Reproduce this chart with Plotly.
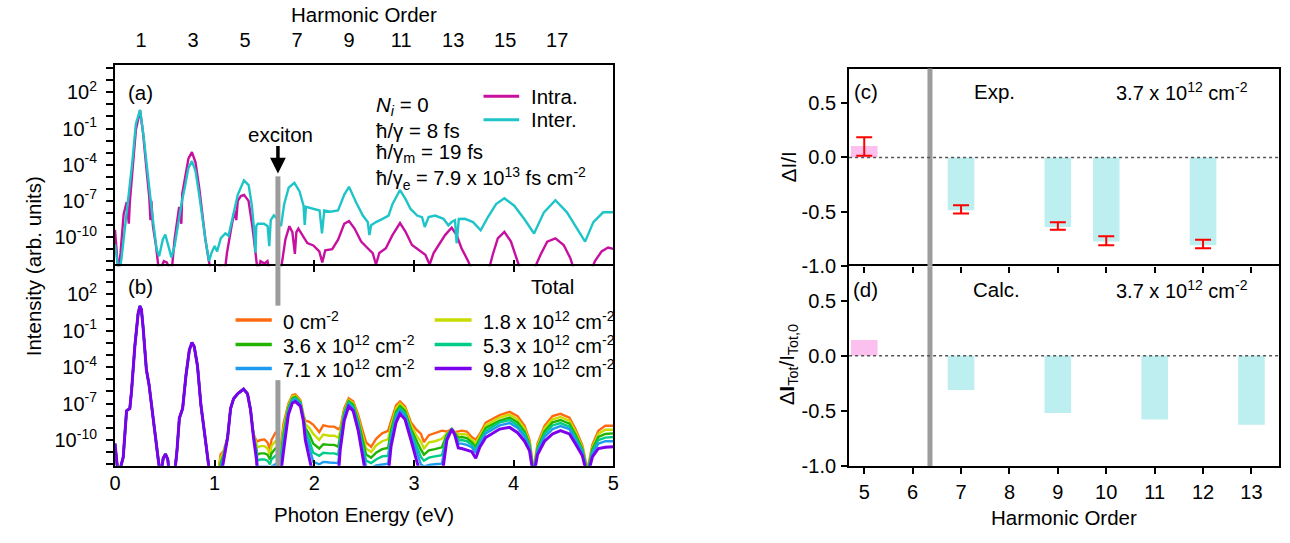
import numpy as np
import plotly.graph_objects as go

W, H = 1290, 543
FONT = "Liberation Sans, Arial, Helvetica, sans-serif"

# ---------------- panel (a): Intra / Inter spectra (log10 of intensity) ----------------
intra_e = [0.0, 0.034, 0.056, 0.087, 0.118, 0.139, 0.149, 0.18, 0.21, 0.252,
           0.282, 0.313, 0.344, 0.356, 0.365, 0.381, 0.412, 0.443, 0.49, 0.52,
           0.567, 0.598, 0.644, 0.666, 0.675, 0.69, 0.737, 0.772, 0.808, 0.845,
           0.876, 0.907, 0.938, 0.965, 1.0, 1.066, 1.1, 1.124, 1.17, 1.2,
           1.217, 1.232, 1.263, 1.295, 1.34, 1.378, 1.41, 1.433, 1.46, 1.5,
           1.53, 1.557, 1.66, 1.71, 1.75, 1.78, 1.805, 1.82, 1.84, 1.88,
           1.93, 1.99, 2.05, 2.08, 2.11, 2.18, 2.24, 2.3, 2.348, 2.404,
           2.47, 2.536, 2.586, 2.619, 2.652, 2.718, 2.784, 2.86, 2.916, 2.98,
           3.048, 3.114, 3.157, 3.197, 3.312, 3.378, 3.428, 3.477, 3.544, 3.593,
           3.742, 3.79, 3.841, 3.907, 3.973, 4.039, 4.079, 4.188, 4.27, 4.337,
           4.419, 4.502, 4.568, 4.618, 4.766, 4.816, 4.882, 4.948, 5.0]
intra_log = [-9.4, -13, -11.3, -8.1, -7.1, -8.9, -7.1, -4.1, -1.1, 0.5,
             -1.4, -4.1, -6.7, -8.6, -7.0, -9.1, -10.75, -13, -12.0, -12.1,
             -13, -10.2, -7.5, -8.9, -6.4, -5.7, -3.5, -2.95, -3.8, -5.9,
             -8.1, -10.2, -11.8, -13, -13, -12.3, -13, -11.3, -9.1, -7.8,
             -8.6, -7.0, -6.6, -6.5, -7.0, -9.1, -11.3, -13, -12.0, -12.2,
             -12.0, -13, -13, -10.2, -9.1, -9.6, -11.4, -9.6, -9.3, -9.8,
             -10.5, -10.7, -11.2, -12.1, -11.1, -11.0, -10.2, -8.9, -8.68, -9.3,
             -10.38, -10.93, -11.33, -12.28, -11.33, -10.93, -9.84, -8.84, -9.57, -10.66,
             -11.06, -11.47, -12.28, -11.33, -9.84, -9.22, -9.84, -10.93, -12.0, -13,
             -13, -11.47, -10.11, -9.57, -10.38, -12.0, -13, -13, -11.47, -10.38,
             -10.11, -10.66, -11.74, -13, -13, -12.0, -11.2, -10.87, -10.98]

inter_e = [0.0, 0.04, 0.065, 0.102, 0.133, 0.17, 0.21, 0.252, 0.288, 0.313,
           0.344, 0.381, 0.418, 0.443, 0.48, 0.505, 0.536, 0.567, 0.598, 0.636,
           0.67, 0.703, 0.736, 0.772, 0.808, 0.845, 0.876, 0.907, 0.944, 0.969,
           1.0, 1.025, 1.062, 1.108, 1.139, 1.186, 1.232, 1.294, 1.341, 1.372,
           1.396, 1.41, 1.418, 1.433, 1.495, 1.532, 1.548, 1.563, 1.594, 1.63,
           1.666, 1.697, 1.743, 1.8, 1.851, 1.892, 1.904, 1.916, 1.991, 2.053,
           2.077, 2.1, 2.16, 2.238, 2.3, 2.348, 2.42, 2.487, 2.536, 2.553,
           2.57, 2.619, 2.685, 2.745, 2.784, 2.86, 2.916, 2.966, 3.032, 3.081,
           3.108, 3.147, 3.213, 3.296, 3.345, 3.378, 3.412, 3.428, 3.45, 3.51,
           3.593, 3.669, 3.742, 3.824, 3.907, 4.006, 4.105, 4.205, 4.304, 4.419,
           4.535, 4.634, 4.717, 4.8, 4.898, 5.0]
inter_log = [-10.6, -13, -11.8, -9.1, -6.7, -4.1, -0.6, 0.55, -1.7, -3.8,
             -5.9, -8.6, -11.0, -11.6, -10.2, -9.8, -10.75, -11.7, -10.75, -8.8,
             -7.1, -5.8, -4.3, -3.7, -4.5, -6.5, -8.6, -10.2, -12.0, -11.3,
             -10.75, -11.2, -10.1, -9.7, -9.9, -8.3, -6.5, -5.3, -5.7, -7.3,
             -9.4, -11.3, -9.1, -8.9, -8.9, -9.1, -10.75, -8.6, -8.2, -8.5,
             -9.1, -7.3, -5.9, -5.5, -6.2, -7.4, -9.0, -7.5, -7.7, -7.8,
             -9.7, -7.8, -7.9, -7.8, -6.5, -5.83, -7.13, -8.22, -8.76, -9.84,
             -9.03, -8.76, -8.49, -8.22, -7.27, -6.1, -6.86, -7.67, -8.22, -8.35,
             -9.17, -8.35, -8.22, -8.49, -9.03, -8.76, -8.6, -10.52, -8.5, -8.49,
             -8.76, -9.44, -8.35, -7.27, -6.78, -7.4, -8.49, -9.71, -7.95, -6.94,
             -7.95, -9.3, -10.38, -8.76, -7.95, -7.95]

# ---------------- panel (b): total spectra for several carrier densities ----------------
# below ~1 eV all densities coincide
total_low_e = [0.0, 0.033, 0.083, 0.116, 0.149, 0.166, 0.199, 0.232, 0.25, 0.265,
               0.282, 0.315, 0.341, 0.364, 0.398, 0.431, 0.457, 0.484, 0.507, 0.53,
               0.547, 0.596, 0.623, 0.646, 0.679, 0.712, 0.746, 0.772, 0.795, 0.828,
               0.862, 0.895, 0.928, 0.954, 1.0]
total_low_log = [-10.3, -13, -11.4, -7.6, -7.4, -6.0, -2.3, 0.4, 1.04, 0.77,
                 -0.7, -4.2, -5.4, -7.1, -9.2, -11.4, -13, -11.5, -11.15, -11.6,
                 -13, -13, -10.8, -8.2, -7.4, -4.7, -2.6, -1.97, -2.3, -3.9,
                 -7.1, -9.2, -11.1, -13, -13]

total_high_e = [1.03, 1.06, 1.09, 1.13, 1.16, 1.19, 1.23, 1.26, 1.29, 1.33,
                1.36, 1.39, 1.42, 1.43, 1.46, 1.50, 1.53, 1.555, 1.57, 1.61,
                1.625, 1.66, 1.69, 1.74, 1.78, 1.81, 1.86, 1.89, 1.91, 1.95,
                1.99, 2.05, 2.09, 2.15, 2.20, 2.24, 2.26, 2.30, 2.345, 2.39,
                2.44, 2.47, 2.52, 2.57, 2.62, 2.68, 2.74, 2.77, 2.82, 2.86,
                2.91, 2.97, 3.02, 3.07, 3.10, 3.15, 3.21, 3.28, 3.33, 3.38,
                3.41, 3.445, 3.48, 3.53, 3.58, 3.62, 3.66, 3.72, 3.86, 3.96,
                4.04, 4.11, 4.16, 4.20, 4.24, 4.31, 4.39, 4.47, 4.56, 4.62,
                4.69, 4.74, 4.79, 4.85, 4.92, 5.0]
total_n00 = [-13, -11.2, -10.9, -9.8, -7.4, -6.6, -6.2, -6.0, -5.8, -6.2,
             -7.5, -9.5, -10.1, -10.1, -10.0, -9.95, -10.2, -10.8, -10.0, -9.4,
             -9.4, -10.8, -8.7, -7.0, -6.3, -6.24, -6.7, -7.9, -8.4, -8.5,
             -8.75, -9.35, -8.8, -8.9, -8.9, -9.1, -9.0, -7.4, -6.56, -6.8,
             -7.9, -8.8, -10.2, -10.56, -9.9, -9.45, -9.25, -8.45, -7.15, -6.83,
             -7.23, -8.56, -9.1, -9.5, -10.16, -9.6, -9.44, -9.23, -9.3, -9.1,
             -9.36, -9.3, -9.23, -9.3, -9.76, -9.97, -9.5, -8.56, -7.95, -7.68,
             -8.03, -8.83, -10.03, -12.5, -10.3, -8.83, -8.03, -7.84, -8.16, -9.09,
             -10.43, -12.5, -10.4, -9.23, -8.83, -8.83]
total_n18 = [-13, -11.5, -11.0, -9.8, -7.4, -6.6, -6.2, -6.0, -5.8, -6.2,
             -7.5, -9.55, -10.4, -10.6, -10.5, -10.5, -10.7, -11.2, -10.5, -10.1,
             -10.1, -11.2, -9.1, -7.15, -6.4, -6.35, -6.8, -8.0, -8.7, -9.0,
             -9.5, -10.0, -9.55, -9.65, -9.65, -9.8, -9.3, -7.6, -6.7, -6.95,
             -8.15, -9.15, -10.7, -11.0, -10.45, -10.1, -9.95, -8.8, -7.4, -7.0,
             -7.4, -8.8, -9.55, -10.15, -10.7, -10.2, -10.1, -9.9, -9.45, -9.1,
             -9.4, -9.55, -9.5, -9.55, -10.0, -10.25, -9.7, -8.8, -8.15, -7.9,
             -8.3, -9.05, -10.2, -12.6, -10.45, -9.05, -8.3, -8.1, -8.4, -9.3,
             -10.6, -12.6, -10.6, -9.5, -9.15, -9.15]
total_n36 = [-13, -11.9, -11.2, -9.8, -7.4, -6.6, -6.2, -6.0, -5.8, -6.2,
             -7.5, -9.6, -10.7, -11.2, -11.1, -11.1, -11.2, -11.6, -11.1, -10.7,
             -10.7, -11.6, -9.55, -7.3, -6.55, -6.45, -6.9, -8.1, -9.0, -9.55,
             -10.3, -10.7, -10.35, -10.4, -10.4, -10.55, -9.65, -7.75, -6.8, -7.1,
             -8.4, -9.55, -11.2, -11.45, -11.05, -10.75, -10.65, -9.2, -7.65, -7.2,
             -7.6, -9.1, -10.0, -10.8, -11.2, -10.85, -10.75, -10.6, -9.55, -9.1,
             -9.45, -9.8, -9.75, -9.85, -10.2, -10.55, -9.9, -9.0, -8.4, -8.15,
             -8.55, -9.3, -10.35, -12.7, -10.65, -9.3, -8.55, -8.35, -8.65, -9.55,
             -10.75, -12.7, -10.75, -9.75, -9.5, -9.45]
total_n53 = [-13, -12.2, -11.3, -9.8, -7.4, -6.6, -6.2, -6.0, -5.8, -6.2,
             -7.5, -9.65, -10.9, -11.7, -11.6, -11.6, -11.7, -12.0, -11.6, -11.3,
             -11.3, -12.0, -9.9, -7.5, -6.65, -6.55, -6.95, -8.15, -9.25, -10.05,
             -11.05, -11.3, -11.05, -11.1, -11.1, -11.2, -9.95, -7.95, -6.9, -7.25,
             -8.6, -9.9, -11.7, -11.9, -11.6, -11.35, -11.3, -9.55, -7.9, -7.4,
             -7.8, -9.35, -10.4, -11.4, -11.7, -11.45, -11.35, -11.25, -9.7, -9.1,
             -9.5, -10.05, -10.0, -10.1, -10.4, -10.8, -10.1, -9.25, -8.55, -8.35,
             -8.8, -9.5, -10.5, -12.8, -10.8, -9.5, -8.8, -8.6, -8.9, -9.75,
             -10.9, -12.8, -10.95, -10.0, -9.8, -9.75]
total_n71 = [-13, -12.5, -11.5, -9.8, -7.4, -6.6, -6.2, -6.0, -5.8, -6.2,
             -7.5, -9.7, -11.2, -12.2, -12.2, -12.2, -12.2, -12.4, -12.2, -12.0,
             -12.0, -12.4, -10.35, -7.65, -6.75, -6.65, -7.05, -8.25, -9.55, -10.6,
             -11.8, -12.0, -11.8, -11.85, -11.85, -11.9, -10.3, -8.1, -7.05, -7.4,
             -8.85, -10.25, -12.2, -12.3, -12.1, -12.0, -11.95, -9.95, -8.15, -7.55,
             -8.0, -9.6, -10.85, -12.0, -12.2, -12.05, -12.0, -11.95, -9.8, -9.1,
             -9.55, -10.3, -10.3, -10.4, -10.6, -11.05, -10.3, -9.45, -8.8, -8.6,
             -9.0, -9.75, -10.65, -12.9, -10.95, -9.75, -9.1, -8.85, -9.1, -9.95,
             -11.05, -12.9, -11.1, -10.3, -10.1, -10.1]
total_n98 = [-13, -13, -11.7, -9.8, -7.4, -6.6, -6.2, -6.0, -5.8, -6.2,
             -7.5, -9.8, -11.6, -13, -13, -13, -13, -13, -13, -13,
             -13, -13, -11.0, -7.9, -6.95, -6.83, -7.2, -8.4, -10.0, -11.4,
             -13, -13, -13, -13, -13, -13, -10.8, -8.4, -7.23, -7.6,
             -9.2, -10.8, -13, -13, -13, -13, -13, -10.5, -8.56, -7.84,
             -8.3, -10.0, -11.5, -13, -13, -13, -13, -13, -10.0, -9.1,
             -9.6, -10.65, -10.7, -10.8, -10.96, -11.5, -10.6, -9.8, -9.1, -8.96,
             -9.4, -10.1, -10.9, -13, -11.2, -10.1, -9.5, -9.23, -9.5, -10.3,
             -11.3, -13, -11.4, -10.7, -10.6, -10.56]

density_labels = ["0 cm<sup>-2</sup>",
                  "1.8 x 10<sup>12</sup> cm<sup>-2</sup>",
                  "3.6 x 10<sup>12</sup> cm<sup>-2</sup>",
                  "5.3 x 10<sup>12</sup> cm<sup>-2</sup>",
                  "7.1 x 10<sup>12</sup> cm<sup>-2</sup>",
                  "9.8 x 10<sup>12</sup> cm<sup>-2</sup>"]
density_series = [total_n00, total_n18, total_n36, total_n53, total_n71, total_n98]
density_colors = ["#FF6A10", "#C8DC00", "#22B400", "#00CC88", "#1E9BF0", "#7A00EE"]
density_widths = [2.4, 2.4, 2.4, 2.4, 2.4, 3.0]

# ---------------- panels (c), (d): relative change of harmonic yield ----------------
harm_exp = [5, 7, 9, 10, 12]
dI_exp = [0.104, -0.485, -0.637, -0.771, -0.806]
dI_exp_err_hi = [0.081, 0.047, 0.042, 0.048, 0.051]
dI_exp_err_lo = [0.089, 0.030, 0.027, 0.035, 0.027]
harm_calc = [5, 7, 9, 11, 13]
dI_calc = [0.143, -0.31, -0.518, -0.578, -0.625]

harmonic_ticks = [5, 6, 7, 8, 9, 10, 11, 12, 13]
photon_ev = 0.261            # fundamental photon energy
exciton_ev = 1.635
exciton_order = 6.358

MAGENTA = "#C8109E"
CYAN = "#1EC4C8"
PINK_BAR = "#FCC0EE"
CYAN_BAR = "#BDEFF0"
GRAY = "#9C9C9C"
TXT = 20.5


def fx(px):
    return px / W


def fy(py):
    return 1 - py / H


A_TOP, AB_MID, B_BOT = 66.7, 271.7, 475.5
C_TOP, CD_MID, D_BOT = 70.0, 272.0, 475.7
LX0, LX1 = 110.0, 613.0
RX0, RX1 = 851.0, 1285.0

fig = go.Figure()

fig.add_trace(go.Scatter(x=intra_e, y=10 ** np.array(intra_log), mode="lines",
                         line=dict(color=MAGENTA, width=2.4), name="Intra.",
                         xaxis="x", yaxis="y", showlegend=False))
fig.add_trace(go.Scatter(x=inter_e, y=10 ** np.array(inter_log), mode="lines",
                         line=dict(color=CYAN, width=2.4), name="Inter.",
                         xaxis="x", yaxis="y", showlegend=False))
# harmonic-order scale on top of panel (a)
fig.add_trace(go.Scatter(x=[None], y=[None], xaxis="x3", yaxis="y",
                         showlegend=False, hoverinfo="skip"))

for lab, ser, col, lw in zip(density_labels, density_series, density_colors, density_widths):
    xs = total_low_e + total_high_e
    ys = 10 ** np.array(total_low_log + ser)
    fig.add_trace(go.Scatter(x=xs, y=ys, mode="lines", line=dict(color=col, width=lw),
                             name=lab, xaxis="x2", yaxis="y2", showlegend=False))

fig.add_trace(go.Bar(x=harm_exp, y=dI_exp, width=0.55,
                     marker=dict(color=[PINK_BAR if v > 0 else CYAN_BAR for v in dI_exp],
                                 line=dict(width=0)),
                     error_y=dict(type="data", symmetric=False, array=dI_exp_err_hi,
                                  arrayminus=dI_exp_err_lo, color="#FF0000",
                                  thickness=2, width=8),
                     xaxis="x4", yaxis="y4", showlegend=False))
fig.add_trace(go.Bar(x=harm_calc, y=dI_calc, width=0.55,
                     marker=dict(color=[PINK_BAR if v > 0 else CYAN_BAR for v in dI_calc],
                                 line=dict(width=0)),
                     xaxis="x5", yaxis="y5", showlegend=False))

axis_common = dict(linewidth=2, linecolor="black", showgrid=False,
                   zeroline=False, tickcolor="black", tickwidth=1.5,
                   tickfont=dict(size=20))

log_ticks = [10.0 ** k for k in range(-12, 5)]
log_text = [f"10<sup>{k}</sup>" if k in (2, -1, -4, -7, -10) else "" for k in range(-12, 5)]

fig.update_layout(
    width=W, height=H, margin=dict(l=0, r=0, t=0, b=0),
    paper_bgcolor="white", plot_bgcolor="white",
    font=dict(family=FONT, size=TXT, color="black"),
    barmode="overlay", showlegend=False,
    # panel (a): its bottom border is drawn by panel (b)'s mirrored top line
    xaxis=dict(domain=[fx(LX0), fx(LX1)], anchor="y", range=[0, 5],
               tickvals=[1, 2, 3, 4], ticks="inside", ticklen=6,
               showticklabels=False, showline=False, **axis_common),
    yaxis=dict(domain=[fy(AB_MID), fy(A_TOP)], anchor="x", type="log",
               range=[-12.42, 4.24], tickvals=log_ticks, ticktext=log_text,
               ticks="outside", ticklen=7, showline=True, mirror=True,
               ticklabelstandoff=5, **axis_common),
    xaxis3=dict(overlaying="x", anchor="y", side="top", range=[0, 5 / photon_ev],
                tickvals=list(range(1, 18, 2)), ticks="outside", ticklen=8,
                tickcolor="rgba(0,0,0,0)", showline=True, linewidth=2,
                linecolor="black", showgrid=False, zeroline=False,
                tickfont=dict(size=20)),
    xaxis2=dict(domain=[fx(LX0), fx(LX1)], anchor="y2", range=[0, 5],
                tickvals=[0, 1, 2, 3, 4, 5], ticks="inside", ticklen=6,
                showline=True, mirror="ticks", ticklabelstandoff=-2, **axis_common),
    yaxis2=dict(domain=[fy(B_BOT), fy(AB_MID)], anchor="x2", type="log",
                range=[-12.13, 4.32], tickvals=log_ticks, ticktext=log_text,
                ticks="outside", ticklen=7, showline=True, mirror=True,
                ticklabelstandoff=5, **axis_common),
    # panel (c): bottom border comes from panel (d)'s mirrored top line
    xaxis4=dict(domain=[fx(RX0), fx(RX1)], anchor="y4", range=[4.687, 13.57],
                tickvals=harmonic_ticks, ticks="outside", ticklen=6,
                showticklabels=False, showline=False, **axis_common),
    yaxis4=dict(domain=[fy(CD_MID), fy(C_TOP)], anchor="x4", range=[-1.0, 0.815],
                tickvals=[-1, -0.5, 0, 0.5], ticktext=["-1.0", "-0.5", "0.0", "0.5"],
                ticks="outside", ticklen=6, showline=True, mirror=True,
                ticklabelstandoff=1, **axis_common),
    xaxis6=dict(overlaying="x4", anchor="y4", side="top", range=[4.687, 13.57],
                showticklabels=False, ticks="", showline=True, linewidth=2,
                linecolor="black", showgrid=False, zeroline=False),
    xaxis5=dict(domain=[fx(RX0), fx(RX1)], anchor="y5", range=[4.687, 13.57],
                tickvals=harmonic_ticks, ticks="outside", ticklen=6,
                showline=True, mirror=True, ticklabelstandoff=1, **axis_common),
    yaxis5=dict(domain=[fy(D_BOT), fy(CD_MID)], anchor="x5", range=[-1.0, 0.81],
                tickvals=[-1, -0.5, 0, 0.5], ticktext=["-1.0", "-0.5", "0.0", "0.5"],
                ticks="outside", ticklen=6, showline=True, mirror=True,
                ticklabelstandoff=1, **axis_common),
)
fig.add_trace(go.Scatter(x=[None], y=[None], xaxis="x6", yaxis="y4",
                         showlegend=False, hoverinfo="skip"))

shapes = [
    # exciton marker across panels (a) and (b)
    dict(type="line", xref="x", yref="y domain", x0=exciton_ev, x1=exciton_ev,
         y0=0, y1=(AB_MID - 180) / (AB_MID - A_TOP), line=dict(color=GRAY, width=5),
         layer="above"),
    dict(type="line", xref="x2", yref="y2 domain", x0=exciton_ev, x1=exciton_ev,
         y0=(B_BOT - 312) / (B_BOT - AB_MID), y1=1, line=dict(color=GRAY, width=5),
         layer="above"),
    dict(type="line", xref="x2", yref="y2 domain", x0=exciton_ev, x1=exciton_ev,
         y0=0, y1=(B_BOT - 388) / (B_BOT - AB_MID), line=dict(color=GRAY, width=5),
         layer="above"),
    # exciton order in panels (c) and (d)
    dict(type="line", xref="x4", yref="y4 domain", x0=exciton_order, x1=exciton_order,
         y0=0, y1=1, line=dict(color=GRAY, width=5), layer="above"),
    dict(type="line", xref="x5", yref="y5 domain", x0=exciton_order, x1=exciton_order,
         y0=0, y1=1, line=dict(color=GRAY, width=5), layer="above"),
    # zero lines
    dict(type="line", xref="x4 domain", yref="y4", x0=0, x1=1, y0=0, y1=0,
         line=dict(color="#555555", width=1.5, dash="dot"), layer="above"),
    dict(type="line", xref="x5 domain", yref="y5", x0=0, x1=1, y0=0, y1=0,
         line=dict(color="#555555", width=1.5, dash="dot"), layer="above"),
]


def label(px, py, text, size=TXT, xanchor="center", angle=0):
    return dict(x=fx(px), y=fy(py), xref="paper", yref="paper", text=text,
                showarrow=False, xanchor=xanchor, yanchor="middle",
                textangle=angle, font=dict(size=size, family=FONT, color="black"))


annotations = [
    label(361.5, 15, "Harmonic Order"),
    label(136, 94, "(a)"),
    label(371.7, 108, "<i>N<sub>i</sub></i> = 0", xanchor="left"),
    label(371.7, 132.7, "ħ/γ = 8 fs", xanchor="left"),
    label(371.7, 156, "ħ/γ<sub>m</sub> = 19 fs", xanchor="left"),
    label(371.7, 181.7, "ħ/γ<sub>e</sub> = 7.9 x 10<sup>13</sup> fs cm<sup>-2</sup>",
          xanchor="left", size=20),
    label(277.5, 137, "exciton"),
    label(136, 292, "(b)"),
    label(552, 292, "Total"),
    label(361.5, 525, "Photon Energy (eV)"),
    label(28, 272, "Intensity (arb. units)", angle=-90),
    label(868, 93, "(c)"),
    label(998, 93, "Exp."),
    label(1187, 93, "3.7 x 10<sup>12</sup> cm<sup>-2</sup>", size=20),
    label(868, 295, "(d)"),
    label(1000, 295, "Calc."),
    label(1187, 295, "3.7 x 10<sup>12</sup> cm<sup>-2</sup>", size=20),
    label(790, 170, "ΔI/I", angle=-90),
    label(790, 372, "Δ<b>I</b><sub>Tot</sub>/I<sub>Tot,0</sub>", angle=-90),
    label(1068, 528, "Harmonic Order"),
    # exciton arrow
    dict(x=exciton_ev, y=(AB_MID - 177) / (AB_MID - A_TOP), xref="x", yref="y domain",
         text="", showarrow=True, ax=0, ay=-29, arrowhead=2, arrowsize=0.9,
         arrowwidth=3.5, arrowcolor="black"),
]

# key for panel (a)
for name, col, py in [("Intra.", MAGENTA, 98.3), ("Inter.", CYAN, 122.3)]:
    shapes.append(dict(type="line", xref="paper", yref="paper", x0=fx(482), x1=fx(518),
                       y0=fy(py), y1=fy(py), line=dict(color=col, width=3)))
    annotations.append(label(527.7, py, name, xanchor="left"))

# key for panel (b): two columns, three rows
key_rows = [326.7, 351.7, 376.0]
for i, (lab, col) in enumerate(zip(density_labels, density_colors)):
    colx = 0 if i % 2 == 0 else 1
    py = key_rows[i // 2]
    lx0, lx1, tx = (231.7, 268.3, 278.0) if colx == 0 else (432.7, 470.0, 479.3)
    shapes.append(dict(type="line", xref="paper", yref="paper", x0=fx(lx0), x1=fx(lx1),
                       y0=fy(py), y1=fy(py), line=dict(color=col, width=3.5)))
    annotations.append(label(tx, py, lab, xanchor="left", size=20))

fig.update_layout(shapes=shapes, annotations=annotations)

fig.write_html("out.html")
